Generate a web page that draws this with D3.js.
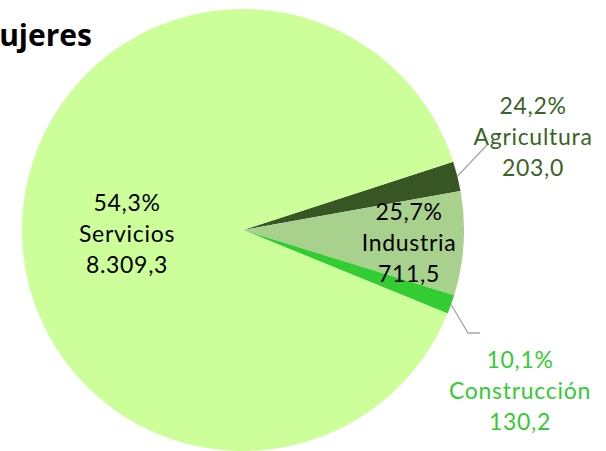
<!DOCTYPE html>
<html>
<head>
<meta charset="utf-8">
<script src="https://cdn.jsdelivr.net/npm/d3@7"></script>
<style>
  body { margin: 0; background: #fff; }
  svg { display: block; }
</style>
</head>
<body>
<div id="chart"></div>
<script>
// data
const sectores = ['Agricultura', 'Industria', 'Construcción', 'Servicios']
const valores = [203.0, 711.5, 130.2, 8309.3]
const porcentajes = ['24,2%', '25,7%', '10,1%', '54,3%']
const valoresTxt = ['203,0', '711,5', '130,2', '8.309,3']
const colores = ['#375623', '#a9d18e', '#33cc33', '#ccff99']
const coloresTexto = ['#3b6327', '#000000', '#33cc33', '#000000']

let width = 606, height = 451
let cx = 243, cy = 230, radius = 221
let rot = 72 * Math.PI / 180

let svg = d3.select('#chart')
    .append('svg')
    .attr('width', width)
    .attr('height', height)

let pie = d3.pie()
    .sort(null)
    .value(d => d.v)
    .startAngle(rot)
    .endAngle(rot + 2 * Math.PI)

let arc = d3.arc().innerRadius(0).outerRadius(radius)

let rows = sectores.map((s, i) => ({ name: s, v: valores[i], pct: porcentajes[i], txt: valoresTxt[i], color: colores[i], tcolor: coloresTexto[i] }))
let arcs = pie(rows)

let g = svg.append('g').attr('transform', `translate(${cx},${cy})`)

g.selectAll('path')
    .data(arcs)
    .join('path')
    .attr('d', arc)
    .attr('fill', d => d.data.color)

// label positions (relative to centre)
let labelPos = {
    'Agricultura': [290, -94],
    'Industria': [166, 12],
    'Construcción': [277, 160],
    'Servicios': [-116, 3]
}

// leader lines for the two small outside slices
let leader = {
    'Agricultura': [[245, -86]],
    'Construcción': [[225, 103], [237, 103]]
}

arcs.forEach(d => {
    let pts = leader[d.data.name]
    if (!pts) return
    let mid = (d.startAngle + d.endAngle) / 2
    let start = [Math.sin(mid) * radius, -Math.cos(mid) * radius]
    g.append('path')
        .attr('d', d3.line()([start].concat(pts)))
        .attr('fill', 'none')
        .attr('stroke', '#a6a6a6')
        .attr('stroke-width', 1.3)
})

let lineH = 31
arcs.forEach(d => {
    let p = labelPos[d.data.name]
    let t = g.append('text')
        .attr('x', p[0])
        .attr('y', p[1])
        .attr('text-anchor', 'middle')
        .attr('font-family', 'Lato, "Open Sans", sans-serif')
        .attr('font-size', 23)
        .attr('letter-spacing', 0.7)
        .attr('fill', d.data.tcolor)
    let lines = [d.data.pct, d.data.name, d.data.txt]
    lines.forEach((l, i) => {
        t.append('tspan')
            .attr('x', p[0])
            .attr('y', p[1] + (i - 1) * lineH)
            .attr('dominant-baseline', 'central')
            .text(l)
    })
})

// title, partly cut off on the left like the original
svg.append('text')
    .attr('x', 92)
    .attr('y', 46)
    .attr('text-anchor', 'end')
    .attr('font-family', '"Open Sans", sans-serif')
    .attr('font-weight', 'bold')
    .attr('font-size', 30)
    .attr('fill', '#000')
    .text('Mujeres')
</script>
</body>
</html>
